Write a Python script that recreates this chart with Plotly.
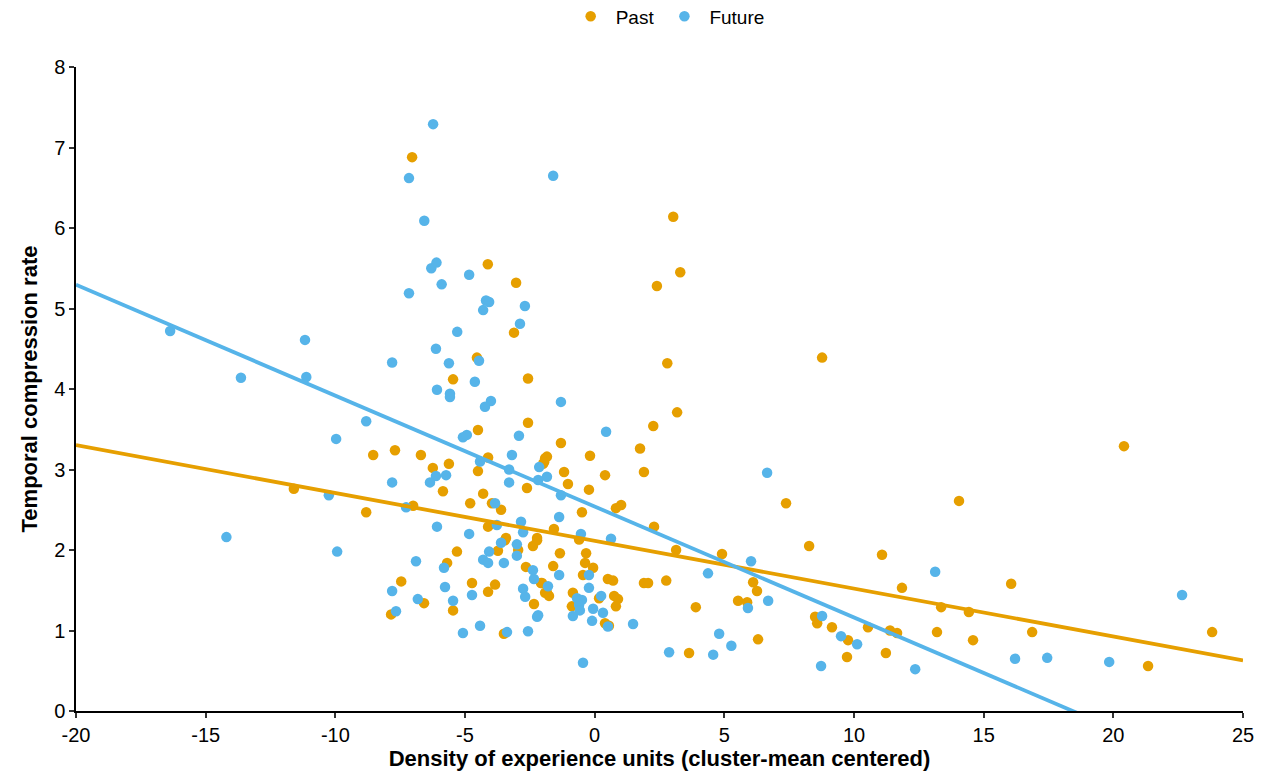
import plotly.graph_objects as go

past_x = [-7.04, 3.03, -4.12, -3.03, 3.3, 2.4, -3.11, -4.54, -5.46, -2.57, -2.57, -4.5, -4.11, -4.5,
          -8.54, -7.7, -6.7, -6.24, -5.62, -1.91, -1.99, -2.61, -5.85, -4.3, -4.8, -3.96, -3.61, -7.0,
          -8.81, -4.11, -3.42, -2.22, -7.46, -7.85, -6.58, -5.69, -5.31, -5.46, -4.73, -4.11, -3.84,
          -3.5, -3.46, -3.73, -2.95, -2.22, -2.38, -2.65, -2.07, -1.84, -2.34,
          2.8, 3.18, 2.26, -1.3, 1.75, -0.18, -1.84, -1.95, -1.18, 0.4, 1.9, -1.03, -0.22, -0.49, 0.82,
          1.02, 2.29, 7.38, -1.57, -0.6, 3.14, 4.91, -1.34, -0.33, -0.37, -0.06, -1.6, -0.45, -2.03,
          -1.91, -1.76, 0.51, 0.71, 1.9, 2.06, 2.76, -0.84, -0.88, 0.17, 0.75, 0.9, 0.82, 0.4, 0.55,
          3.9, 3.64, 5.53, 5.88, 6.11, 6.26, 6.3,
          8.77, 20.41, 14.05, 8.27, 11.08, 11.85, 16.06, 13.36, 14.43, 8.5, 8.58, 9.15, 10.54, 9.77,
          9.73, 11.39, 11.66, 11.23, 13.2, 14.59, 16.87, 23.81, 21.34, -11.6]
past_y = [6.88, 6.14, 5.55, 5.32, 5.45, 5.28, 4.7, 4.39, 4.12, 4.13, 3.58, 3.49, 3.15, 2.98,
          3.18, 3.24, 3.18, 3.02, 3.07, 3.14, 3.07, 2.77, 2.73, 2.7, 2.58, 2.58, 2.5, 2.55,
          2.47, 2.29, 2.15, 2.15, 1.61, 1.2, 1.34, 1.84, 1.98, 1.25, 1.59, 1.48, 1.57,
          0.96, 2.12, 1.99, 2.0, 2.12, 2.05, 1.79, 1.59, 1.47, 1.33,
          4.32, 3.71, 3.54, 3.33, 3.26, 3.17, 3.16, 3.09, 2.97, 2.93, 2.97, 2.82, 2.75, 2.47, 2.52,
          2.56, 2.29, 2.58, 2.26, 2.13, 2.0, 1.95, 1.96, 1.96, 1.84, 1.78, 1.8, 1.69, 1.59,
          1.47, 1.43, 1.64, 1.62, 1.59, 1.59, 1.62, 1.47, 1.3, 1.4, 1.43, 1.39, 1.3, 1.09, 1.06,
          1.29, 0.72, 1.37, 1.35, 1.6, 1.49, 0.89,
          4.39, 3.29, 2.61, 2.05, 1.94, 1.53, 1.58, 1.29, 1.23, 1.17, 1.09, 1.04, 1.04, 0.88,
          0.67, 1.0, 0.97, 0.72, 0.98, 0.88, 0.98, 0.98, 0.56, 2.76]

future_x = [-6.23, -7.16, -1.6, -6.57, -6.3, -6.1, -5.9, -7.16, -4.84, -4.19, -4.07, -4.3, -2.69,
            -2.88, -5.3, -6.12, -16.37, -11.17, -7.81, -5.62, -4.46, -11.12, -4.62, -6.08, -5.58,
            -5.58, -4.0, -4.23, -8.81, -9.97, -5.08, -4.93, -2.92, -3.19, -4.42, -3.3, -2.14, -1.84,
            -2.18, -3.3, -6.12, -6.35, -5.73, -7.81, -10.25, -7.27, -3.84, -2.84, -2.76, -6.08, -4.84,
            -3.77, -9.93, -6.89, -5.81, -7.81, -7.66, -6.82, -5.77, -5.46, -4.73, -5.08, -4.42,
            -3.61, -4.07, -4.3, -4.11, -3.5, -3.0, -3.0, -2.38, -2.34, -2.76, -2.68, -2.18, -2.22,
            -2.57, -3.38, -1.8,
            -1.3, 0.44, 6.65, -1.3, -1.37, -0.53, 0.63, -1.37, -0.22, -0.22, -0.68, -0.49, -0.6,
            -0.57, -0.84, 0.25, -0.06, 0.32, -0.1, 0.51, 1.48, -0.45, 2.87, 4.57, 4.8, 5.27, 4.37,
            6.03, 5.91, 6.69,
            8.77, 9.5, 10.12, 8.73, 12.36, 13.13, 16.21, 17.45, 19.84, 22.65, -13.64, -14.2]
future_y = [7.29, 6.62, 6.65, 6.09, 5.5, 5.57, 5.3, 5.19, 5.42, 5.1, 5.08, 4.98, 5.03,
            4.81, 4.71, 4.5, 4.72, 4.61, 4.33, 4.32, 4.35, 4.15, 4.09, 3.99, 3.94,
            3.9, 3.85, 3.78, 3.6, 3.38, 3.4, 3.43, 3.42, 3.18, 3.1, 3.0, 3.03, 2.91,
            2.87, 2.84, 2.92, 2.84, 2.93, 2.84, 2.68, 2.53, 2.58, 2.35, 2.22, 2.29, 2.2,
            2.31, 1.98, 1.86, 1.78, 1.49, 1.24, 1.39, 1.54, 1.37, 1.44, 0.97, 1.06,
            2.09, 1.98, 1.88, 1.84, 1.84, 2.07, 1.93, 1.75, 1.64, 1.52, 1.42, 1.19, 1.17,
            0.99, 0.98, 1.55,
            3.84, 3.47, 2.96, 2.68, 2.41, 2.2, 2.14, 1.69, 1.69, 1.53, 1.4, 1.38, 1.32,
            1.25, 1.18, 1.43, 1.27, 1.22, 1.12, 1.05, 1.08, 0.6, 0.73, 0.7, 0.96, 0.81, 1.71,
            1.86, 1.28, 1.37,
            1.18, 0.93, 0.83, 0.56, 0.52, 1.73, 0.65, 0.66, 0.61, 1.44, 4.14, 2.16]

# Fitted lines (intercept, slope)
past_fit = [2.114, -0.0594]
future_fit = [2.54, -0.1378]
line_x = [-20, 25]

x_ticks = [-20, -15, -10, -5, 0, 5, 10, 15, 20, 25]
y_ticks = [0, 1, 2, 3, 4, 5, 6, 7, 8]

PAST_C = "#E69F00"
FUT_C = "#56B4E9"

fig = go.Figure()
fig.add_trace(go.Scatter(x=past_x, y=past_y, mode="markers", name="Past",
                         marker=dict(color=PAST_C, size=10.5, line=dict(width=0))))
fig.add_trace(go.Scatter(x=future_x, y=future_y, mode="markers", name="Future",
                         marker=dict(color=FUT_C, size=10.5, line=dict(width=0))))
fig.add_trace(go.Scatter(x=line_x, y=[past_fit[0] + past_fit[1] * v for v in line_x],
                         mode="lines", line=dict(color=PAST_C, width=3.8), showlegend=False,
                         hoverinfo="skip"))
fig.add_trace(go.Scatter(x=line_x, y=[future_fit[0] + future_fit[1] * v for v in line_x],
                         mode="lines", line=dict(color=FUT_C, width=3.8), showlegend=False,
                         hoverinfo="skip"))

axis_common = dict(showgrid=False, zeroline=False, showline=True, linecolor="black", linewidth=1.5,
                   ticks="outside", ticklen=5, tickwidth=1.5, tickcolor="#333",
                   tickfont=dict(family="Liberation Sans, Arial", size=20, color="black"))

fig.update_layout(
    width=1270, height=777,
    margin=dict(l=76, r=27, t=67, b=66, autoexpand=False),
    plot_bgcolor="white", paper_bgcolor="white",
    font=dict(family="Liberation Sans, Arial", color="black"),
    legend=dict(orientation="h", x=0.507, xanchor="center", yref="container", y=0.979,
                yanchor="middle", font=dict(size=19, color="black"), itemwidth=40,
                tracegroupgap=0),
    xaxis=dict(range=[-20, 25], tickvals=x_ticks, ticktext=[str(v) for v in x_ticks],
               title=dict(text="<b>Density of experience units (cluster-mean centered)</b>",
                          font=dict(size=22), standoff=6), **axis_common),
    yaxis=dict(range=[0, 8], tickvals=y_ticks, ticktext=[str(v) for v in y_ticks],
               title=dict(text="<b>Temporal compression rate</b>", font=dict(size=22), standoff=10),
               **axis_common),
)

fig.write_html("out.html")
